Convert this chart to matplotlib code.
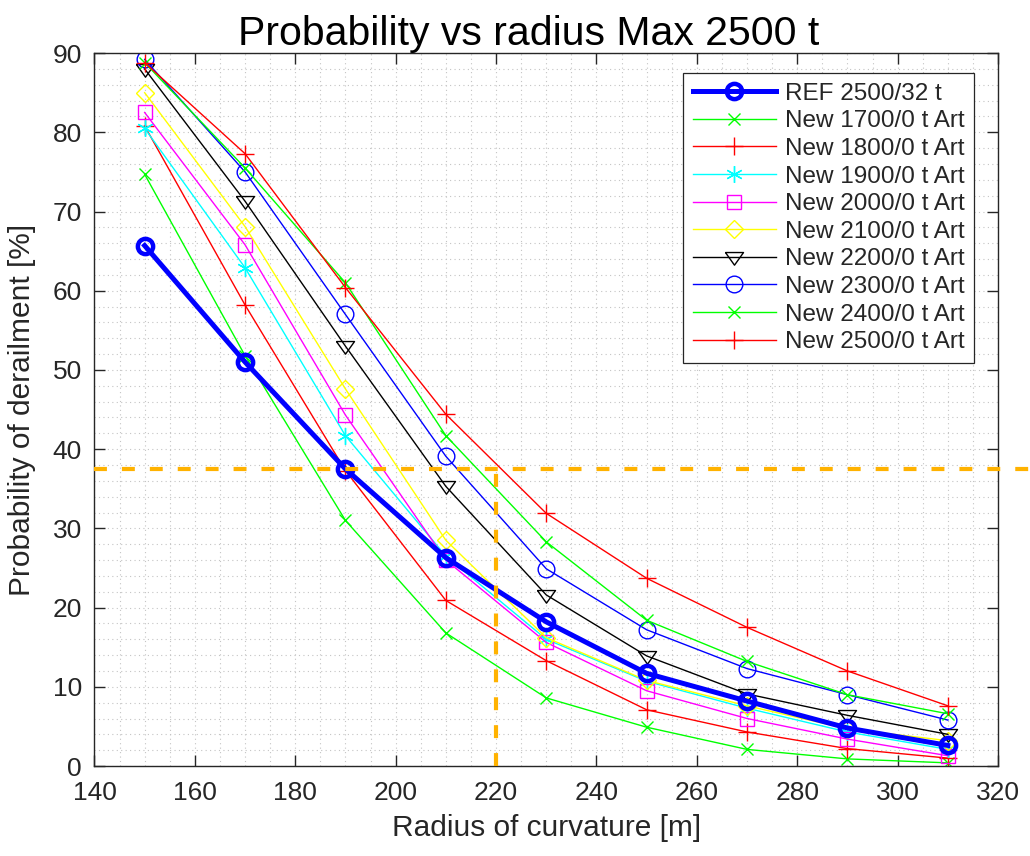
import numpy as np
import matplotlib
matplotlib.use("Agg")
import matplotlib.pyplot as plt
from matplotlib.ticker import MultipleLocator

plt.rcParams['font.family'] = ['Liberation Sans', 'DejaVu Sans']

# Radius of curvature [m]
radius = np.array([150, 170, 190, 210, 230, 250, 270, 290, 310])

# Probability of derailment [%]
ref_2500 = [65.7, 51.0, 37.5, 26.3, 18.2, 11.7, 8.2, 4.8, 2.6]
new_1700 = [74.7, 51.8, 31.0, 16.8, 8.6, 4.9, 2.1, 0.9, 0.4]
new_1800 = [80.8, 58.2, 37.3, 20.9, 13.3, 7.1, 4.3, 2.2, 1.0]
new_1900 = [80.5, 62.9, 41.7, 26.5, 16.0, 10.7, 7.3, 4.3, 2.1]
new_2000 = [82.5, 65.8, 44.3, 26.0, 15.6, 9.5, 6.0, 3.4, 1.3]
new_2100 = [85.0, 68.1, 47.6, 28.5, 16.2, 10.8, 7.6, 4.7, 3.2]
new_2200 = [88.0, 71.3, 53.0, 35.3, 21.6, 13.9, 9.1, 6.4, 4.0]
new_2300 = [89.2, 75.0, 57.0, 39.1, 24.9, 17.2, 12.3, 9.0, 5.8]
new_2400 = [88.8, 75.5, 61.0, 41.7, 28.3, 18.4, 13.2, 9.0, 6.6]
new_2500 = [88.8, 77.3, 60.4, 44.4, 31.9, 23.7, 17.5, 12.0, 7.6]

# matlab-like markers
tri_down = [(-1, 0.55), (1, 0.55), (0, -0.85), (-1, 0.55)]
asterisk = (6, 2, 0)

new_series = [
    ('New 1700/0 t Art', new_1700, '#00ff00', 'x', 9),
    ('New 1800/0 t Art', new_1800, '#ff0000', '+', 13),
    ('New 1900/0 t Art', new_1900, '#00ffff', asterisk, 12),
    ('New 2000/0 t Art', new_2000, '#ff00ff', 's', 10.5),
    ('New 2100/0 t Art', new_2100, '#ffff00', 'D', 9.5),
    ('New 2200/0 t Art', new_2200, '#000000', tri_down, 13),
    ('New 2300/0 t Art', new_2300, '#0000ff', 'o', 12),
    ('New 2400/0 t Art', new_2400, '#00ff00', 'x', 9),
    ('New 2500/0 t Art', new_2500, '#ff0000', '+', 13),
]

limit_prob = 37.5
limit_radius = 220

fig = plt.figure(figsize=(10.3, 8.56), dpi=100)
ax = fig.add_axes([0.0917, 0.1051, 0.8773, 0.8329])

ax.plot(radius, ref_2500, '-o', color='#0000ff', lw=3.6, ms=11, mew=3.2,
        mfc='none', label='REF 2500/32 t', zorder=3)
for name, vals, col, mk, ms in new_series:
    ax.plot(radius, vals, '-', marker=mk, color=col, lw=1.0, ms=ms,
            mew=1.0, mfc='none', label=name, zorder=2)

# limit lines
orange = '#ffb200'
ax.plot([140, 335], [limit_prob, limit_prob], color=orange, lw=3,
        dashes=(3.1, 3.6), clip_on=False, zorder=4)
ax.plot([limit_radius, limit_radius], [0, limit_prob], color=orange,
        lw=3, dashes=(3.1, 3.6), zorder=4)

ax.set_xlim(140, 320)
ax.set_ylim(0, 90)
ax.xaxis.set_major_locator(MultipleLocator(20))
ax.yaxis.set_major_locator(MultipleLocator(10))
ax.xaxis.set_minor_locator(MultipleLocator(5))
ax.yaxis.set_minor_locator(MultipleLocator(2))
ax.grid(True, which='both', color='#c4c4c4', lw=0.8, ls=(0, (1, 3)))
ax.tick_params(which='minor', length=0)
ax.tick_params(which='major', direction='in', top=True, right=True,
               labelsize=19, colors='#262626', length=8, width=1.0)
ax.tick_params(axis='x', pad=11)
ax.tick_params(axis='y', pad=9)
for sp in ax.spines.values():
    sp.set_color('#262626')
    sp.set_linewidth(1.0)

ax.set_xlabel('Radius of curvature [m]', fontsize=21.5, color='#262626', labelpad=6)
ax.set_ylabel('Probability of derailment [%]', fontsize=21.5, color='#262626', labelpad=12)
ax.set_title('Probability vs radius Max 2500 t', fontsize=29.5, pad=6, x=0.48)

leg = ax.legend(loc='upper right', fontsize=17.5, frameon=True, fancybox=False,
                edgecolor='#262626', handlelength=3.4, handletextpad=0.37,
                borderaxespad=0.0, bbox_to_anchor=(0.9735, 0.972),
                labelspacing=0.23, borderpad=0.4, framealpha=1)
leg.get_frame().set_linewidth(0.9)
for t in leg.get_texts():
    t.set_color('#262626')

fig.savefig('out.png', dpi=100)
